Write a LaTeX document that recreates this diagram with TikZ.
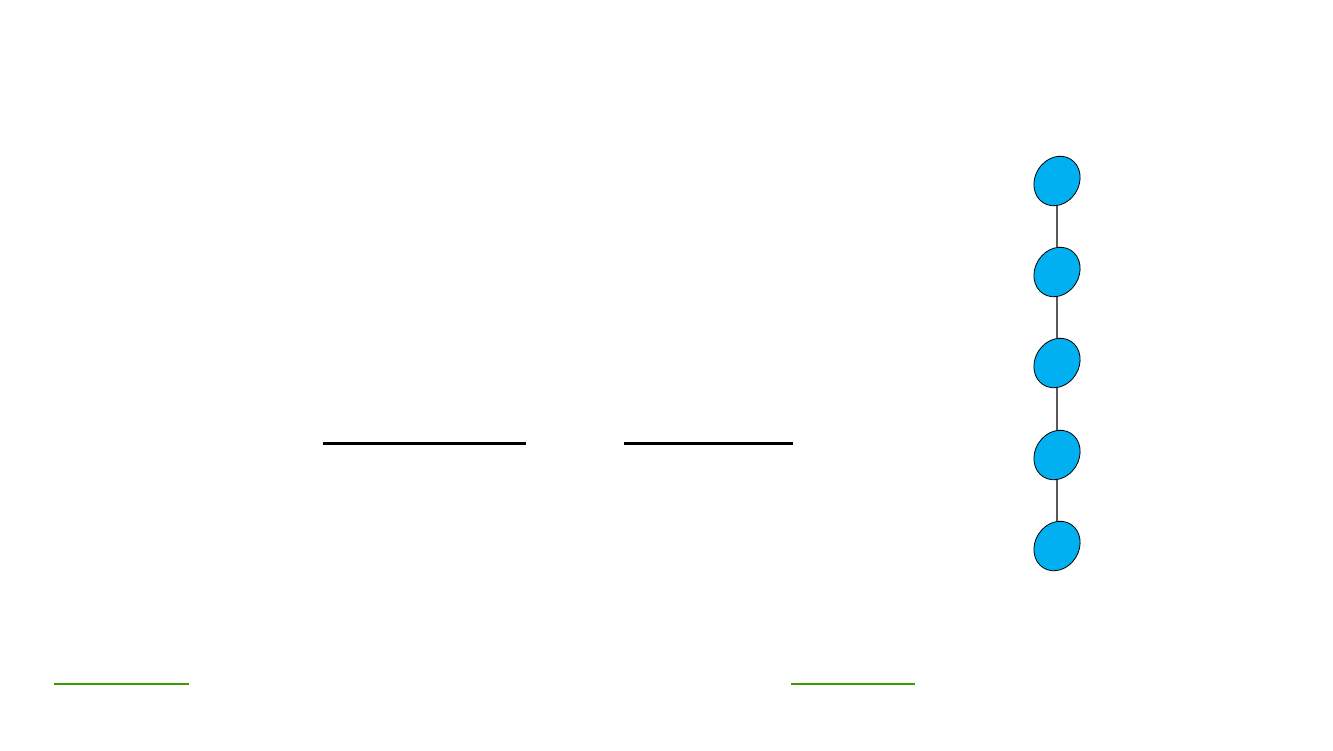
\documentclass[tikz,border=0pt]{standalone}
\usetikzlibrary{shapes.geometric}
\definecolor{ballblue}{HTML}{00B0F0}
\definecolor{linkgreen}{HTML}{3A9A00}
\tikzset{
  ball/.style={ellipse, draw=black, line width=0.6pt, fill=ballblue, minimum width=51.5*0.75pt, minimum height=44*0.75pt, inner sep=0pt, rotate=58},
  bar/.style={line width=1.6pt, black},
  glink/.style={line width=1.3pt, linkgreen},
  link/.style={line width=0.8pt, black}
}
\begin{document}
\begin{tikzpicture}[x=0.75pt,y=-0.75pt]
\useasboundingbox (0,0) rectangle (1333,750);
\node[ball] (b1) at (1057,181) {};
\node[ball] (b2) at (1057,272) {};
\node[ball] (b3) at (1057,363) {};
\node[ball] (b4) at (1057,455) {};
\node[ball] (b5) at (1057,546) {};
\draw[link] (b1) -- (b2);
\draw[link] (b2) -- (b3);
\draw[link] (b3) -- (b4);
\draw[link] (b4) -- (b5);
\coordinate (l1a) at (323,443.5);
\coordinate (l1b) at (526,443.5);
\coordinate (l2a) at (624,443.5);
\coordinate (l2b) at (793,443.5);
\draw[bar] (l1a) -- (l1b);
\draw[bar] (l2a) -- (l2b);
\coordinate (g1a) at (54,684);
\coordinate (g1b) at (189,684);
\coordinate (g2a) at (791,684);
\coordinate (g2b) at (915,684);
\draw[glink] (g1a) -- (g1b);
\draw[glink] (g2a) -- (g2b);
\end{tikzpicture}
\end{document}
